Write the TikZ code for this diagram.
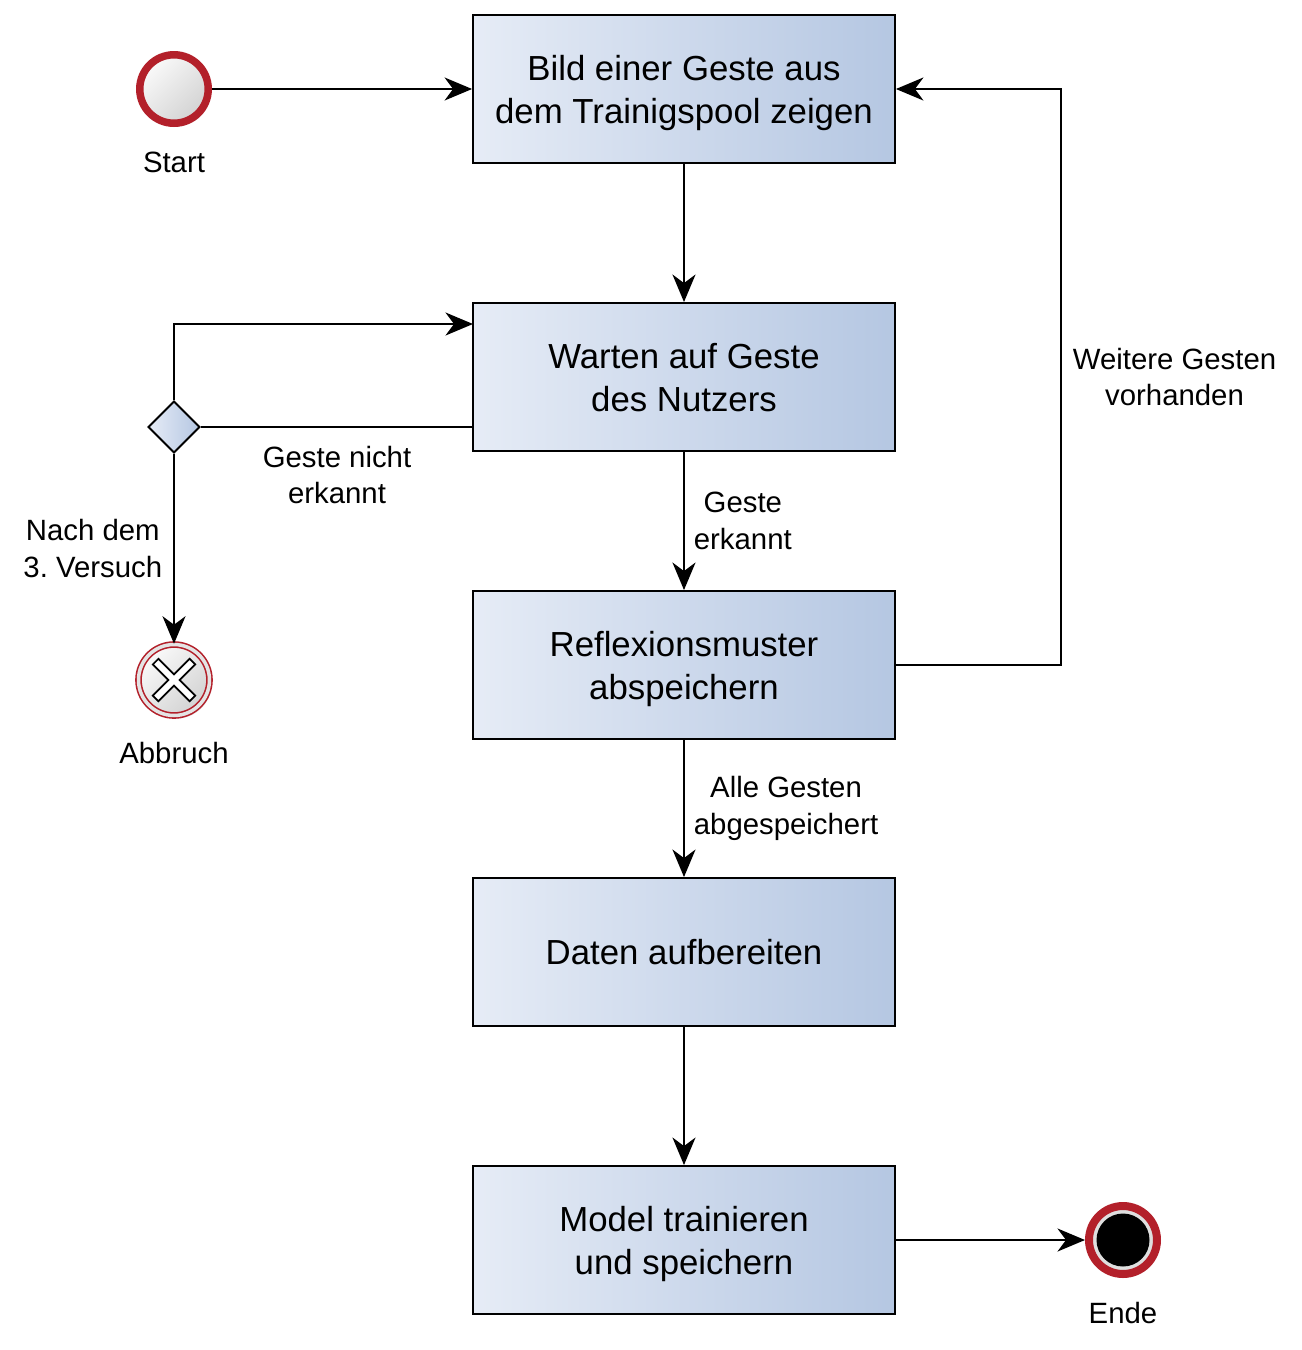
\documentclass[tikz,border=0pt]{standalone}
\usepackage{fontspec}
\setmainfont{Liberation Sans}
\usepackage[HTML]{xcolor}
\usepackage{tikz}
\usetikzlibrary{positioning, arrows.meta, shapes.geometric, shadows}

\definecolor{evred}{HTML}{B3202A}
\definecolor{boxL}{HTML}{E6ECF6}
\definecolor{boxR}{HTML}{B5C7E2}
\definecolor{evL}{HTML}{FAFAFA}
\definecolor{evR}{HTML}{D2D2D2}

\tikzset{
  task/.style={rectangle, draw, line width=1.1pt, left color=boxL, right color=boxR,
    minimum width=8.44cm, minimum height=2.96cm, align=center, text depth=0pt,
    font=\fontsize{19.8pt}{24.4pt}\selectfont},
  gateway/.style={diamond, draw, line width=1.1pt, left color=boxL, right color=boxR,
    minimum width=1.04cm, minimum height=1.04cm, inner sep=0pt},
  startev/.style={circle, draw=evred, line width=0.15cm, left color=evL, right color=evR,
    shading angle=45, minimum size=1.37cm, inner sep=0pt,
    drop shadow={opacity=0.2, shadow xshift=0.05cm, shadow yshift=-0.06cm}},
  abortev/.style={circle, draw=evred, double=evR!60, double distance=0.07cm, line width=0.9pt,
    left color=evL, right color=evR, shading angle=45, minimum size=1.42cm, inner sep=0pt,
    drop shadow={opacity=0.2, shadow xshift=0.05cm, shadow yshift=-0.06cm}},
  endev/.style={circle, draw=evred, line width=0.16cm, fill=evR!70,
    minimum size=1.36cm, inner sep=0pt,
    drop shadow={opacity=0.2, shadow xshift=0.05cm, shadow yshift=-0.06cm}},
  lbl/.style={align=center, font=\fontsize{16.7pt}{21pt}\selectfont},
  flow/.style={line width=1.2pt, -{Stealth[length=0.55cm, width=0.46cm, inset=0.17cm]}},
  seq/.style={line width=1.2pt},
  xmark/.style={draw, line width=1pt, fill=white, line join=miter}
}

\begin{document}
\frenchspacing
\begin{tikzpicture}[x=0.02cm, y=-0.02cm]
\useasboundingbox (0,0) rectangle (1302,1350);
% tasks
\node[task] (bild)   at (684,89)   {Bild einer Geste aus\\dem Trainigspool zeigen};
\node[task] (warten) at (684,377)  {Warten auf Geste\\des Nutzers};
\node[task] (reflex) at (684,665)  {Reflexionsmuster\\abspeichern};
\node[task] (daten)  at (684,952)  {Daten aufbereiten};
\node[task] (model)  at (684,1240) {Model trainieren\\und speichern};
% events
\node[startev] (start) at (174,89) {};
\node[lbl] (startlbl) at (174,162) {Start};
\node[abortev] (abbruch) at (174,680) {};
\node[lbl] (abbruchlbl) at (174,753) {Abbruch};
\node[endev] (ende) at (1123,1240) {};
\fill (ende.center) circle (0.53cm);
\node[lbl] (endelbl) at (1123,1313) {Ende};
% gateway
\node[gateway] (gw) at (174,427) {};
\coordinate (retry) at (473,324);
\coordinate (loop) at (1061,665);

% cross in the abort event
\draw[xmark, shift={(abbruch)}, rotate=45]
  (-4,26) -- (4,26) -- (4,4) -- (26,4) -- (26,-4) -- (4,-4) -- (4,-26)
  -- (-4,-26) -- (-4,-4) -- (-26,-4) -- (-26,4) -- (-4,4) -- cycle;

% flows
\draw[flow] (start) -- (bild);
\draw[flow] (bild) -- (warten);
\draw[flow] (warten) -- node[lbl, right=0.06cm] {Geste\\erkannt} (reflex);
\draw[flow] (reflex) -- node[lbl, right=0.06cm] {Alle Gesten\\abgespeichert} (daten);
\draw[flow] (daten) -- (model);
\draw[flow] (model) -- (ende);
\draw[flow] (reflex) -- (loop) |- node[lbl, pos=0.25, right=0.1cm] {Weitere Gesten\\vorhanden} (bild);
\draw[seq] (gw.east) -- (gw.east -| warten.west);
\node[lbl] (nichtlbl) at (337,475) {Geste nicht\\erkannt};
\draw[flow] (gw.north) |- (retry);
\draw[flow] (gw) -- node[lbl, left=0.1cm] {Nach dem\\3. Versuch} (abbruch);
\end{tikzpicture}
\end{document}
